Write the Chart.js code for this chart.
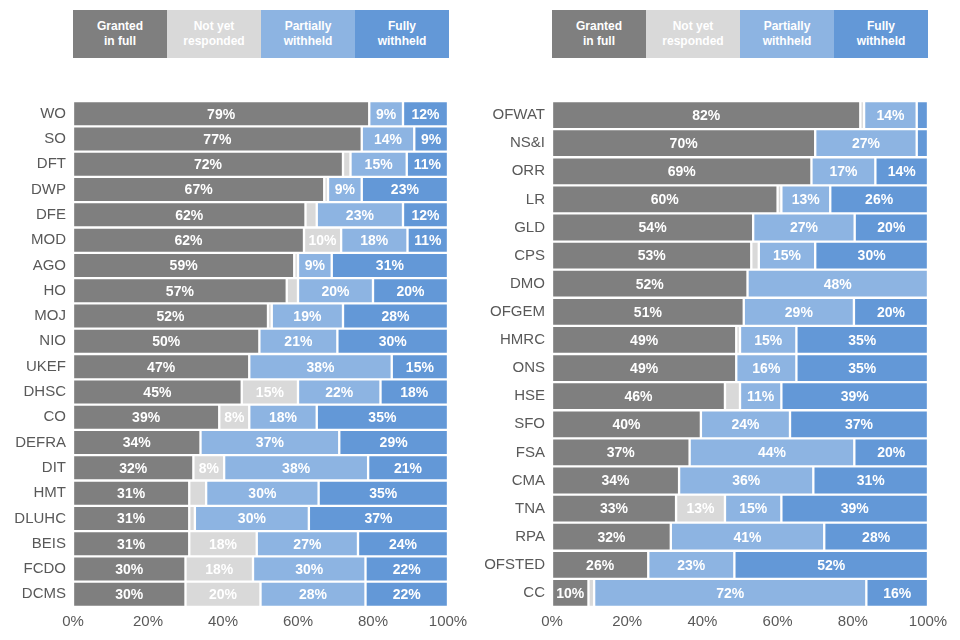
<!DOCTYPE html>
<html>
<head>
<meta charset="utf-8">
<script src="https://cdn.jsdelivr.net/npm/chart.js@4.4.1/dist/chart.umd.min.js"></script>
<style>
  body { margin: 0; background: #fff; font-family: "Liberation Sans", Arial, sans-serif; }
  #wrap { position: relative; width: 960px; height: 640px; }
  .cv { position: absolute; top: 0; width: 480px; height: 640px; }
  .legend { position: absolute; top: 10px; height: 48px; display: flex; }
  .legend div {
    width: 94px; height: 48px; display: flex; align-items: center; justify-content: center;
    text-align: center; color: #fff; font-weight: bold; font-size: 12px; line-height: 15px;
  }
</style>
</head>
<body>
<div id="wrap">
  <div class="legend" id="legend-left" style="left:73px"></div>
  <div class="legend" id="legend-right" style="left:552px"></div>
  <div class="cv" style="left:0"><canvas id="chart-left" width="480" height="640"></canvas></div>
  <div class="cv" style="left:480px"><canvas id="chart-right" width="480" height="640"></canvas></div>
</div>
<script>
// series names + colours
const seriesNames = ["Granted\nin full", "Not yet\nresponded", "Partially\nwithheld", "Fully\nwithheld"];
const seriesColors = ["#7f7f7f", "#d9d9d9", "#8db4e2", "#6398d7"];
const xTicks = [0, 20, 40, 60, 80, 100];

// left panel
const leftLabels = ["WO", "SO", "DFT", "DWP", "DFE", "MOD", "AGO", "HO", "MOJ", "NIO",
  "UKEF", "DHSC", "CO", "DEFRA", "DIT", "HMT", "DLUHC", "BEIS", "FCDO", "DCMS"];
const leftGranted = [79, 77, 72, 67, 62, 61.6, 59, 57, 52, 49.7, 47, 45, 39, 34, 32.1, 31, 31, 31, 30, 30];
const leftNotYet  = [0, 0, 2, 1, 3, 9.9, 1, 3, 1, 0, 0, 15, 8, 0, 8.2, 4.5, 1.5, 18, 18, 20];
const leftPartial = [9, 14, 15, 9, 23, 17.7, 9, 20, 19, 20.8, 38, 22, 18, 37, 38.4, 30, 30.4, 27, 30, 28];
const leftFully   = [12, 9, 11, 23, 12, 10.8, 31, 20, 28, 29.5, 15, 18, 35, 29, 21.3, 34.5, 37.1, 24, 22, 22];

// right panel
const rightLabels = ["OFWAT", "NS&I", "ORR", "LR", "GLD", "CPS", "DMO", "OFGEM", "HMRC", "ONS",
  "HSE", "SFO", "FSA", "CMA", "TNA", "RPA", "OFSTED", "CC"];
const rightGranted = [82, 70, 69, 60, 53.5, 53, 52, 51, 49, 49, 46, 39.6, 36.6, 33.8, 33, 31.6, 25.6, 9.7];
const rightNotYet  = [1, 0, 0, 1, 0, 2, 0, 0, 1, 0, 4, 0, 0, 0, 13, 0, 0, 1.5];
const rightPartial = [14, 27, 17, 13, 27, 15, 48, 29.3, 15, 16, 11, 23.7, 43.8, 35.7, 15, 40.8, 22.9, 72.4];
const rightFully   = [3, 3, 14, 26, 19.5, 30, 0, 19.7, 35, 35, 39, 36.7, 19.6, 30.5, 39, 27.6, 51.5, 16.4];

const FONT = "'Liberation Sans', Arial, sans-serif";

// build legend boxes
function buildLegend(id) {
  const el = document.getElementById(id);
  seriesNames.forEach((n, i) => {
    const d = document.createElement("div");
    d.style.background = seriesColors[i];
    d.innerHTML = n.replace("\n", "<br>");
    el.appendChild(d);
  });
}

// white % labels in the middle of each segment
const segLabels = {
  id: "segLabels",
  afterDatasetsDraw(chart) {
    const ctx = chart.ctx;
    ctx.save();
    ctx.font = "bold 14px " + FONT;
    ctx.fillStyle = "#fff";
    ctx.textAlign = "center";
    ctx.textBaseline = "middle";
    chart.data.datasets.forEach((ds, di) => {
      chart.getDatasetMeta(di).data.forEach((bar, i) => {
        const v = ds.data[i];
        if (v < 7.5) return;
        ctx.fillText(Math.round(v) + "%", (bar.x + bar.base) / 2, bar.y + 1);
      });
    });
    ctx.restore();
  }
};

function makeChart(id, labels, series) {
  const ctx = document.getElementById(id).getContext("2d");
  return new Chart(ctx, {
    type: "bar",
    data: {
      labels: labels,
      datasets: series.map((data, i) => ({
        label: seriesNames[i].replace("\n", " "),
        data: data,
        backgroundColor: seriesColors[i],
        borderColor: "#fff",
        borderWidth: 1.5,
        borderSkipped: false,
        barPercentage: 1,
        categoryPercentage: 1,
      })),
    },
    options: {
      indexAxis: "y",
      responsive: false,
      animation: false,
      layout: { padding: { top: 101, right: 32, left: 0, bottom: 0 } },
      plugins: { legend: { display: false }, tooltip: { enabled: false } },
      scales: {
        x: {
          stacked: true, min: 0, max: 100,
          afterBuildTicks: (s) => { s.ticks = xTicks.map((v) => ({ value: v })); },
          afterFit: (s) => { s.height = 33; },
          grid: { display: false, drawTicks: false },
          border: { display: false },
          ticks: { color: "#595959", font: { family: FONT, size: 15 }, padding: 6, callback: (v) => v + "%" },
        },
        y: {
          stacked: true,
          afterFit: (s) => { s.width = id === "chart-left" ? 73 : 72; },
          grid: { display: false, drawTicks: false },
          border: { display: false },
          ticks: { color: "#595959", font: { family: FONT, size: 15 }, padding: 7 },
        },
      },
    },
    plugins: [segLabels],
  });
}

buildLegend("legend-left");
buildLegend("legend-right");
makeChart("chart-left", leftLabels, [leftGranted, leftNotYet, leftPartial, leftFully]);
makeChart("chart-right", rightLabels, [rightGranted, rightNotYet, rightPartial, rightFully]);
</script>
</body>
</html>
